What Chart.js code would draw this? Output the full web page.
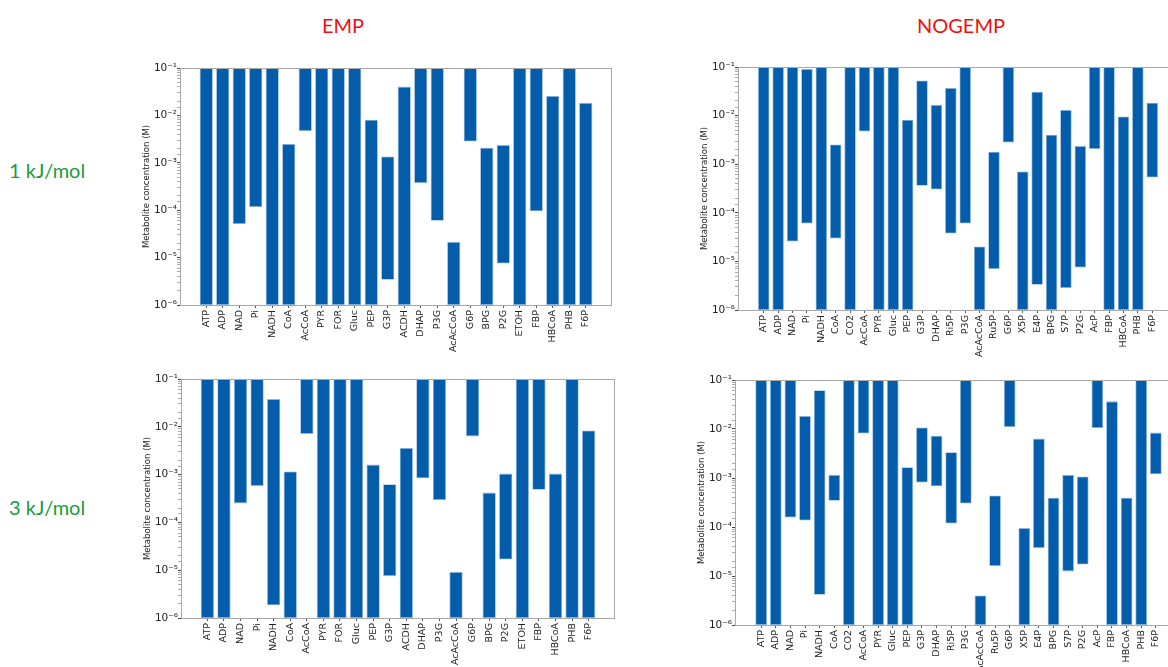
<!DOCTYPE html>
<html>
<head>
<meta charset="utf-8">
<script src="https://cdn.jsdelivr.net/npm/chart.js@4.4.1/dist/chart.umd.min.js"></script>
<style>
  html, body { margin: 0; padding: 0; background: #fff; overflow: hidden; }
  #page { position: relative; width: 1168px; height: 667px; overflow: hidden; }
  canvas { position: absolute; }
  .head { position: absolute; font-family: Lato, "Open Sans", sans-serif; font-size: 20px; line-height: 24px; white-space: nowrap; }
  .col { color: #f01010; transform: translateX(-50%); }
  .row { color: #1a9a3c; }
</style>
</head>
<body>
<div id="page">
  <div class="head col" style="left:343px; top:13px;">EMP</div>
  <div class="head col" style="left:961px; top:13px;">NOGEMP</div>
  <div class="head row" style="left:9px; top:158px;">1 kJ/mol</div>
  <div class="head row" style="left:9px; top:495px;">3 kJ/mol</div>
  <canvas id="emp1"></canvas>
  <canvas id="nog1"></canvas>
  <canvas id="emp3"></canvas>
  <canvas id="nog3"></canvas>
</div>
<script>
// Categorias de cada ruta
const empCats = ["ATP", "ADP", "NAD", "Pi", "NADH", "CoA", "AcCoA", "PYR", "FOR", "Gluc", "PEP", "G3P",
  "ACDH", "DHAP", "P3G", "AcAcCoA", "G6P", "BPG", "P2G", "ETOH", "FBP", "HBCoA", "PHB", "F6P"]
const nogCats = ["ATP", "ADP", "NAD", "Pi", "NADH", "CoA", "CO2", "AcCoA", "PYR", "Gluc", "PEP", "G3P",
  "DHAP", "Ri5P", "P3G", "AcAcCoA", "Ru5P", "G6P", "X5P", "E4P", "BPG", "S7P", "P2G", "AcP", "FBP",
  "HBCoA", "PHB", "F6P"]

// Rangos de concentracion (M): limite inferior y superior
const emp1Low = [1e-6, 1e-6, 5.1e-5, 1.17e-4, 1e-6, 1e-6, 4.7e-3, 1e-6, 1e-6, 1e-6, 1e-6, 3.4e-6,
  1e-6, 3.75e-4, 6.0e-5, 1e-6, 2.8e-3, 1e-6, 7.5e-6, 1e-6, 9.5e-5, 1e-6, 1e-6, 1e-6]
const emp1High = [0.1, 0.1, 0.1, 0.1, 0.1, 2.5e-3, 0.1, 0.1, 0.1, 0.1, 8.1e-3, 1.36e-3,
  0.0405, 0.1, 0.1, 2.15e-5, 0.1, 2.07e-3, 2.36e-3, 0.1, 0.1, 0.0258, 0.1, 0.0184]

const emp3Low = [1e-6, 1e-6, 2.5e-4, 5.8e-4, 1.85e-6, 1e-6, 7.1e-3, 1e-6, 1e-6, 1e-6, 1e-6, 7.5e-6,
  1e-6, 8.4e-4, 2.94e-4, 1e-6, 6.3e-3, 1e-6, 1.67e-5, 1e-6, 4.8e-4, 1e-6, 1e-6, 1e-6]
const emp3High = [0.1, 0.1, 0.1, 0.1, 0.038, 1.16e-3, 0.1, 0.1, 0.1, 0.1, 1.62e-3, 6.3e-4,
  3.6e-3, 0.1, 0.1, 9.2e-6, 0.1, 4.2e-4, 1.05e-3, 0.1, 0.1, 1.05e-3, 0.1, 8.4e-3]

const nog1Low = [1e-6, 1e-6, 2.56e-5, 6.0e-5, 1e-6, 2.95e-5, 1e-6, 4.7e-3, 1e-6, 1e-6, 1e-6, 3.6e-4,
  3.0e-4, 3.74e-5, 6.0e-5, 1e-6, 7.0e-6, 2.8e-3, 1e-6, 3.3e-6, 1e-6, 2.84e-6, 7.45e-6, 2.04e-3,
  1e-6, 1e-6, 1e-6, 5.3e-4]
const nog1High = [0.1, 0.1, 0.1, 0.091, 0.1, 2.55e-3, 0.1, 0.1, 0.1, 0.1, 8.2e-3, 0.053,
  0.0165, 0.0369, 0.1, 2.02e-5, 1.8e-3, 0.1, 7.1e-4, 0.031, 4.03e-3, 0.013, 2.36e-3, 0.1,
  0.1, 9.6e-3, 0.1, 0.0184]

const nog3Low = [1e-6, 1e-6, 1.56e-4, 1.36e-4, 4.15e-6, 3.42e-4, 1e-6, 8.05e-3, 1e-6, 1e-6, 1e-6, 8.1e-4,
  6.8e-4, 1.18e-4, 3.0e-4, 1e-6, 1.6e-5, 0.011, 1e-6, 3.7e-5, 1e-6, 1.24e-5, 1.72e-5, 0.0105,
  1e-6, 1e-6, 1e-6, 1.19e-3]
const nog3High = [0.1, 0.1, 0.1, 0.0185, 0.0616, 1.16e-3, 0.1, 0.1, 0.1, 0.1, 1.66e-3, 0.0107,
  7.3e-3, 3.36e-3, 0.1, 4.0e-6, 4.4e-4, 0.1, 9.5e-5, 6.37e-3, 3.94e-4, 1.16e-3, 1.07e-3, 0.1,
  0.0367, 3.94e-4, 0.1, 8.45e-3]

Chart.defaults.font.family = "'DejaVu Sans', sans-serif"
Chart.defaults.color = '#222'

const SUP = { '-': '\u207B', '0': '\u2070', '1': '\u00B9', '2': '\u00B2', '3': '\u00B3', '4': '\u2074',
  '5': '\u2075', '6': '\u2076', '7': '\u2077', '8': '\u2078', '9': '\u2079' }
const isDecade = v => {
  const e = Math.log10(v)
  return Math.abs(e - Math.round(e)) < 1e-6
}
const decadeLabel = v => '10' + String(Math.round(Math.log10(v))).split('').map(c => SUP[c]).join('')

// Marco gris alrededor del area del grafico (estilo matplotlib)
const framePlugin = {
  id: 'frame',
  afterDraw(chart) {
    const a = chart.chartArea
    const ctx = chart.ctx
    ctx.save()
    ctx.strokeStyle = '#a8a8a8'
    ctx.lineWidth = 1
    ctx.strokeRect(a.left + 0.5, a.top + 0.5, a.right - a.left - 1, a.bottom - a.top)
    ctx.restore()
  }
}

const Y_W = 41, X_H = 55, PAD_T = 8

const makePanel = (id, cats, lows, highs, box) => {
  const canvas = document.getElementById(id)
  const left = box.L - Y_W
  const top = box.T - PAD_T
  const w = box.R - left + 1
  const h = (box.B - box.T) + PAD_T + X_H
  canvas.width = w
  canvas.height = h
  canvas.style.width = w + 'px'
  canvas.style.height = h + 'px'
  canvas.style.left = left + 'px'
  canvas.style.top = top + 'px'

  const n = cats.length
  const margin = 0.4 + 0.05 * (n - 1 + 0.8)

  const chart = new Chart(canvas.getContext('2d'), {
    type: 'bar',
    data: {
      datasets: [{
        data: cats.map((c, i) => ({ x: i, y: [lows[i], highs[i]] })),
        backgroundColor: '#045dab',
        borderColor: '#8fb6e0',
        borderWidth: 0.8,
        borderSkipped: false,
        barPercentage: 0.8,
        categoryPercentage: 1
      }]
    },
    options: {
      responsive: false,
      animation: false,
      devicePixelRatio: 1,
      layout: { padding: { top: PAD_T, right: 1, left: 0, bottom: 0 } },
      plugins: { legend: { display: false }, tooltip: { enabled: false } },
      scales: {
        x: {
          type: 'linear',
          offset: false,
          min: -margin,
          max: n - 1 + margin,
          afterBuildTicks: s => { s.ticks = cats.map((c, i) => ({ value: i })) },
          afterFit: s => { s.height = X_H },
          border: { display: false },
          grid: { offset: false, drawOnChartArea: false, drawTicks: true, tickLength: 3, tickColor: '#555' },
          ticks: {
            autoSkip: false,
            maxRotation: 90,
            minRotation: 90,
            padding: 2,
            font: { size: 9.5 },
            callback: v => cats[Math.round(v)]
          }
        },
        y: {
          type: 'logarithmic',
          min: 1e-6,
          max: 0.1,
          afterFit: s => { s.width = Y_W },
          border: { display: false },
          grid: {
            drawOnChartArea: false,
            drawTicks: true,
            tickLength: 3,
            tickColor: ctx => (ctx.tick && isDecade(ctx.tick.value)) ? '#444' : '#aaa'
          },
          ticks: {
            autoSkip: false,
            padding: 0,
            font: { size: 10.5 },
            callback: v => isDecade(v) ? decadeLabel(v) : ''
          },
          title: {
            display: true,
            text: 'Metabolite concentration (M)',
            font: { size: 8.5 },
            padding: { top: 3, bottom: 0 }
          }
        }
      }
    },
    plugins: [framePlugin]
  })

  // Ajuste fino para que el area del grafico quede donde esta en la figura
  const a = chart.chartArea
  canvas.style.left = (left + (box.L - (left + a.left))) + 'px'
  canvas.style.top = (top + (box.T - (top + a.top))) + 'px'
  return chart
}

makePanel('emp1', empCats, emp1Low, emp1High, { L: 180, R: 612, T: 68, B: 305 })
makePanel('nog1', nogCats, nog1Low, nog1High, { L: 738, R: 1178, T: 67, B: 310 })
makePanel('emp3', empCats, emp3Low, emp3High, { L: 181, R: 615, T: 379, B: 618 })
makePanel('nog3', nogCats, nog3Low, nog3High, { L: 735, R: 1182, T: 380, B: 625 })
</script>
</body>
</html>
